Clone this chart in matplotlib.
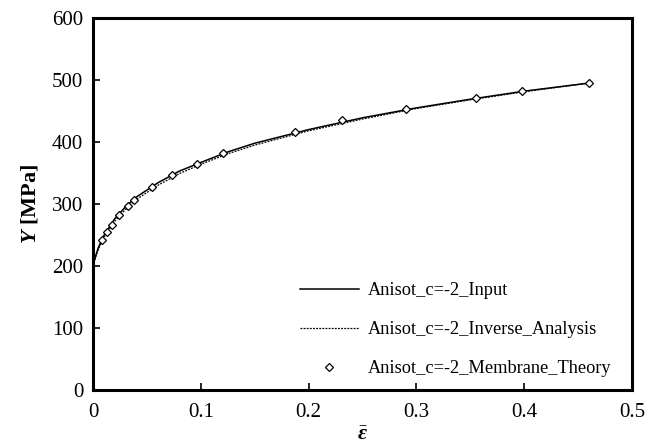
import matplotlib
matplotlib.use('Agg')
import matplotlib.pyplot as plt

plt.rcParams['font.family'] = 'Liberation Serif'
plt.rcParams['mathtext.fontset'] = 'custom'
plt.rcParams['mathtext.rm'] = 'Liberation Serif'
plt.rcParams['mathtext.it'] = 'Liberation Serif:italic'
plt.rcParams['mathtext.bf'] = 'Liberation Serif:bold:italic'

# input curve
strain_input = [0, 0.002, 0.005, 0.01, 0.02, 0.03, 0.04, 0.06, 0.08, 0.1, 0.125,
                0.15, 0.2, 0.25, 0.3, 0.35, 0.4, 0.46]
stress_input = [200, 214, 230, 249, 276, 295, 311, 334, 353, 367, 384,
                398, 420, 439, 455, 469, 482, 495]

# inverse analysis curve (slightly below in the early range)
strain_inverse = [0, 0.002, 0.005, 0.01, 0.02, 0.03, 0.04, 0.06, 0.08, 0.1, 0.125,
                  0.15, 0.2, 0.25, 0.3, 0.35, 0.4, 0.46]
stress_inverse = [200, 212, 227, 246, 272, 291, 307, 330, 349, 364, 381,
                  395, 418, 437, 454, 468, 481, 495]

# membrane theory points
strain_membrane = [0.0086, 0.0127, 0.0173, 0.0241, 0.0322, 0.038, 0.055, 0.0736,
                   0.0962, 0.121, 0.187, 0.231, 0.290, 0.355, 0.398, 0.460]
stress_membrane = [242, 255, 266, 282, 297, 306, 328, 347,
                   365, 382, 416, 435, 454, 471, 482, 495]

fig = plt.figure(figsize=(6.56, 4.44), dpi=100)
ax = fig.add_axes([0.1418, 0.1216, 0.8216, 0.8379])

ax.plot(strain_input, stress_input, color='black', lw=1.1, label='Anisot_c=-2_Input')
ax.plot(strain_inverse, stress_inverse, color='black', lw=0.9, ls=(0, (1.5, 1)),
        label='Anisot_c=-2_Inverse_Analysis')
ax.plot(strain_membrane, stress_membrane, ls='none', marker='D', ms=4.5,
        mfc='white', mec='black', mew=0.9, label='Anisot_c=-2_Membrane_Theory')

ax.set_xlim(0, 0.5)
ax.set_ylim(0, 600)
ax.set_xticks([0, 0.1, 0.2, 0.3, 0.4, 0.5])
ax.set_xticklabels(['0', '0.1', '0.2', '0.3', '0.4', '0.5'])
ax.set_yticks([0, 100, 200, 300, 400, 500, 600])
ax.tick_params(direction='in', length=5, width=1.2, labelsize=15)
ax.tick_params(axis='x', pad=9)
ax.tick_params(axis='y', pad=7)
for s in ax.spines.values():
    s.set_linewidth(2.2)

ax.set_xlabel(r'$\bar{\mathbf{\varepsilon}}$', fontsize=16, labelpad=3)
ax.set_ylabel(r'$\mathbf{Y}$ [MPa]', fontsize=16, fontweight='bold', labelpad=8)

ax.legend(loc='upper left', frameon=False, fontsize=13.2, handlelength=3.2,
          labelspacing=1.2, handletextpad=0.5, borderpad=0, borderaxespad=0,
          bbox_to_anchor=(0.384, 0.29))

fig.savefig('out.png', dpi=100)
